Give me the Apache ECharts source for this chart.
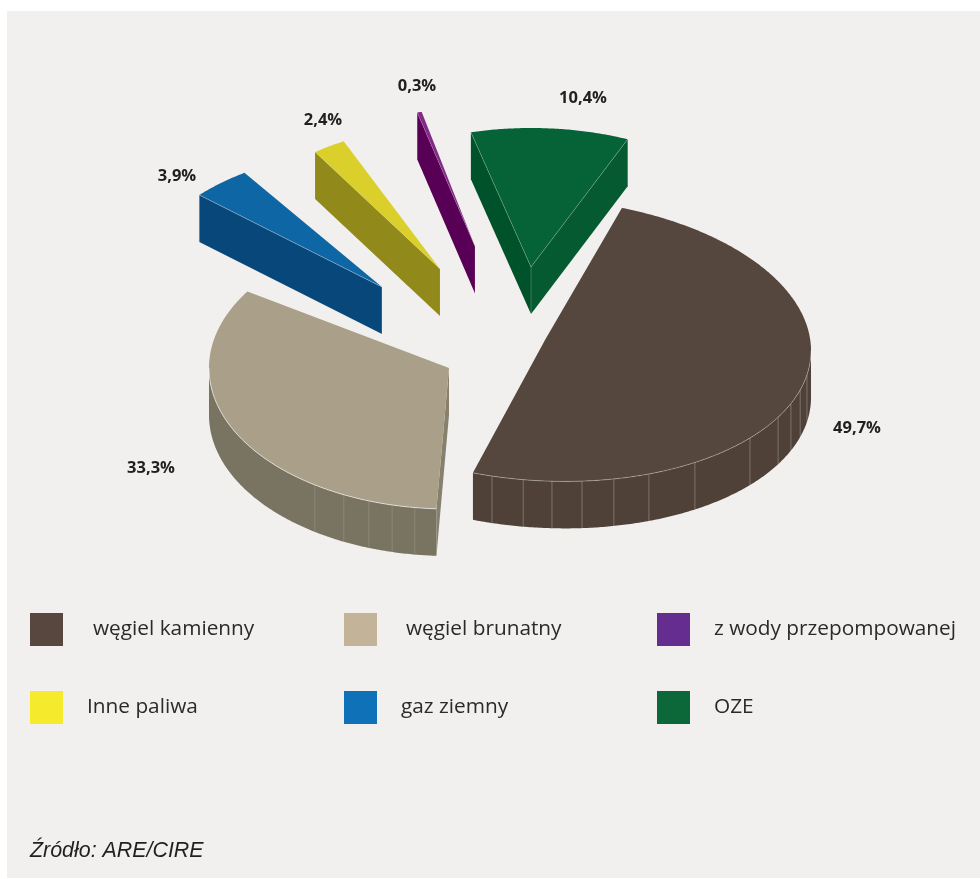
<!DOCTYPE html>
<html>
<head>
<meta charset="utf-8">
<title>Struktura produkcji energii</title>
<style>html,body{margin:0;padding:0;background:#fff}#chart{width:980px;height:879px}</style>
<script src="https://cdn.jsdelivr.net/npm/echarts@6/dist/echarts.min.js"></script>
</head>
<body>
<div id="chart"></div>
<script>
// Shares of generation by fuel, in percent
const categories = ['węgiel kamienny', 'węgiel brunatny', 'z wody przepompowanej', 'Inne paliwa', 'gaz ziemny', 'OZE'];
const shares = [49.7, 33.3, 0.3, 2.4, 3.9, 10.4];

// Legend swatches
const legendColors = ['#57473e', '#c2b399', '#652d90', '#f5ea2b', '#0f72b9', '#0d6839'];
const legendLeft = [30, 344, 657, 30, 344, 657];
const legendTop = [613, 613, 613, 691, 691, 691];
const legendTextGap = [25, 24, 19, 19, 19, 19];

// Face colours of each wedge
const topColors = ['#55463e', '#aaa089', '#832a87', '#dbcf2c', '#0e66a4', '#066237'];
const rimColors = ['#4f4138', '#797361', '#570055', '#918a1b', '#08477a', '#055a31'];
const startFaceColors = ['#4f4138', '#86806d', '#570055', '#918a1b', '#08477a', '#00522a'];
const endFaceColors = ['#4f4138', '#86806d', '#570055', '#918a1b', '#08477a', '#055a31'];

// Placement of each exploded wedge: apex, ellipse radii, start bearing (degrees
// clockwise from north) and how far the arc sags below a true ellipse
const apexX = [545, 449, 475, 440, 382, 531];
const apexY = [340, 368, 246.5, 269, 287, 267];
const radiusX = [266, 240, 242, 220, 245, 245];
const radiusY = [138, 141, 138, 142, 138, 139];
const startBearing = [16.8, 183, -13.8, -34.6, -48.2, -14.2];
const arcSag = [11, 0, 0, 0, 0, 0];
const depth = 47;

// Vertical seams on the outer wall
const seams = [
  [100, 106.4, 112.4, 118.8, 129.6, 145.7, 157, 165, 172, 178.5, 184.7, 191.5],
  [188.2, 193.7, 199.5, 206, 214],
  [], [], [], []
];
const seamAlpha = [0.26, 0.14, 0, 0, 0, 0];
const rimAlpha = [0.32, 0.6, 0, 0, 0, 0];
const edgeAlpha = [0, 0, 0.15, 0.08, 0.3, 0.22];

// Value labels
const labelX = [857, 151, 417, 323, 177, 583];
const labelY = [428, 468, 86, 120, 176, 98];

const total = shares.reduce((s, v) => s + v, 0);
const DEG = Math.PI / 180;

function wedgeElements(i, value) {
  const sweep = value / total * 360;
  const s = startBearing[i];
  const e = s + sweep;
  const cx = apexX[i], cy = apexY[i], a = radiusX[i], b = radiusY[i];
  const at = (deg, dy) => {
    const sag = arcSag[i] * Math.sin((deg - s) / sweep * Math.PI);
    return [cx + a * Math.sin(deg * DEG), cy - b * Math.cos(deg * DEG) + sag + (dy || 0)];
  };
  const arc = (from, to, dy) => {
    const n = Math.max(2, Math.ceil((to - from) / 0.5));
    const pts = [];
    for (let k = 0; k <= n; k++) pts.push(at(from + (to - from) * k / n, dy));
    return pts;
  };
  const poly = (points, fill) => ({ type: 'polygon', shape: { points }, style: { fill, stroke: null } });
  const line = (points, alpha) => ({
    type: 'polyline', shape: { points },
    style: { fill: null, stroke: 'rgba(255,255,255,' + alpha + ')', lineWidth: 1 }
  });
  const children = [];
  const apex = [cx, cy], apexLow = [cx, cy + depth];

  // Radial cut faces are visible only when they turn toward the viewer
  const showStart = -Math.sin(s * DEG) > 0;
  const showEnd = Math.sin(e * DEG) > 0;
  if (showStart) children.push(poly([apex, at(s), at(s, depth), apexLow], startFaceColors[i]));
  if (showEnd) children.push(poly([apex, at(e), at(e, depth), apexLow], endFaceColors[i]));

  // Outer wall on the near half of the ellipse
  const from = Math.max(s, 90), to = Math.min(e, 270);
  if (to > from) {
    const wall = arc(from, to, 0).concat(arc(from, to, depth).reverse());
    children.push(poly(wall, rimColors[i]));
    seams[i].forEach(d => children.push(line([at(d), at(d, depth)], seamAlpha[i])));
  }

  // Top face
  children.push(poly([apex].concat(arc(s, e, 0)), topColors[i]));
  if (to > from && rimAlpha[i]) children.push(line(arc(from, to, 0), rimAlpha[i]));
  if (edgeAlpha[i]) {
    if (showStart) children.push(line([apex, at(s)], edgeAlpha[i]));
    if (showEnd) children.push(line([apex, at(e)], edgeAlpha[i]));
    children.push(line([apex, apexLow], edgeAlpha[i]));
  }

  // Value label
  children.push({
    type: 'text',
    style: {
      x: labelX[i], y: labelY[i],
      text: value.toFixed(1).replace('.', ',') + '%',
      fill: '#231f20',
      font: 'bold 16.5px "Open Sans", sans-serif',
      align: 'center', verticalAlign: 'middle'
    }
  });
  return { type: 'group', children };
}

const chart = echarts.init(document.getElementById('chart'), null, { renderer: 'canvas' });
chart.setOption({
  animation: false,
  backgroundColor: '#ffffff',
  legend: categories.map((name, i) => ({
    left: legendLeft[i],
    top: legendTop[i],
    padding: 0,
    selectedMode: false,
    itemWidth: 33,
    itemHeight: 33,
    data: [{ name, icon: 'rect', itemStyle: { color: legendColors[i], borderWidth: 0 } }],
    textStyle: {
      color: '#2b2a29',
      fontFamily: '"Open Sans", sans-serif',
      fontSize: 20.8,
      padding: [0, 0, 0, legendTextGap[i]]
    }
  })),
  graphic: [
    { type: 'rect', z: -10, silent: true, shape: { x: 7, y: 11, width: 973, height: 867 }, style: { fill: '#f1f0ee' } },
    {
      type: 'text', silent: true, x: 30, y: 851,
      style: {
        text: 'Źródło: ARE/CIRE', fill: '#231f20',
        font: 'italic 21.4px "Liberation Sans", Arial, sans-serif',
        verticalAlign: 'middle'
      }
    }
  ],
  series: categories.map((name, i) => ({
    type: 'custom',
    name,
    coordinateSystem: 'none',
    silent: true,
    data: [[shares[i]]],
    renderItem: (params, api) => wedgeElements(i, api.value(0))
  }))
});
</script>
</body>
</html>
